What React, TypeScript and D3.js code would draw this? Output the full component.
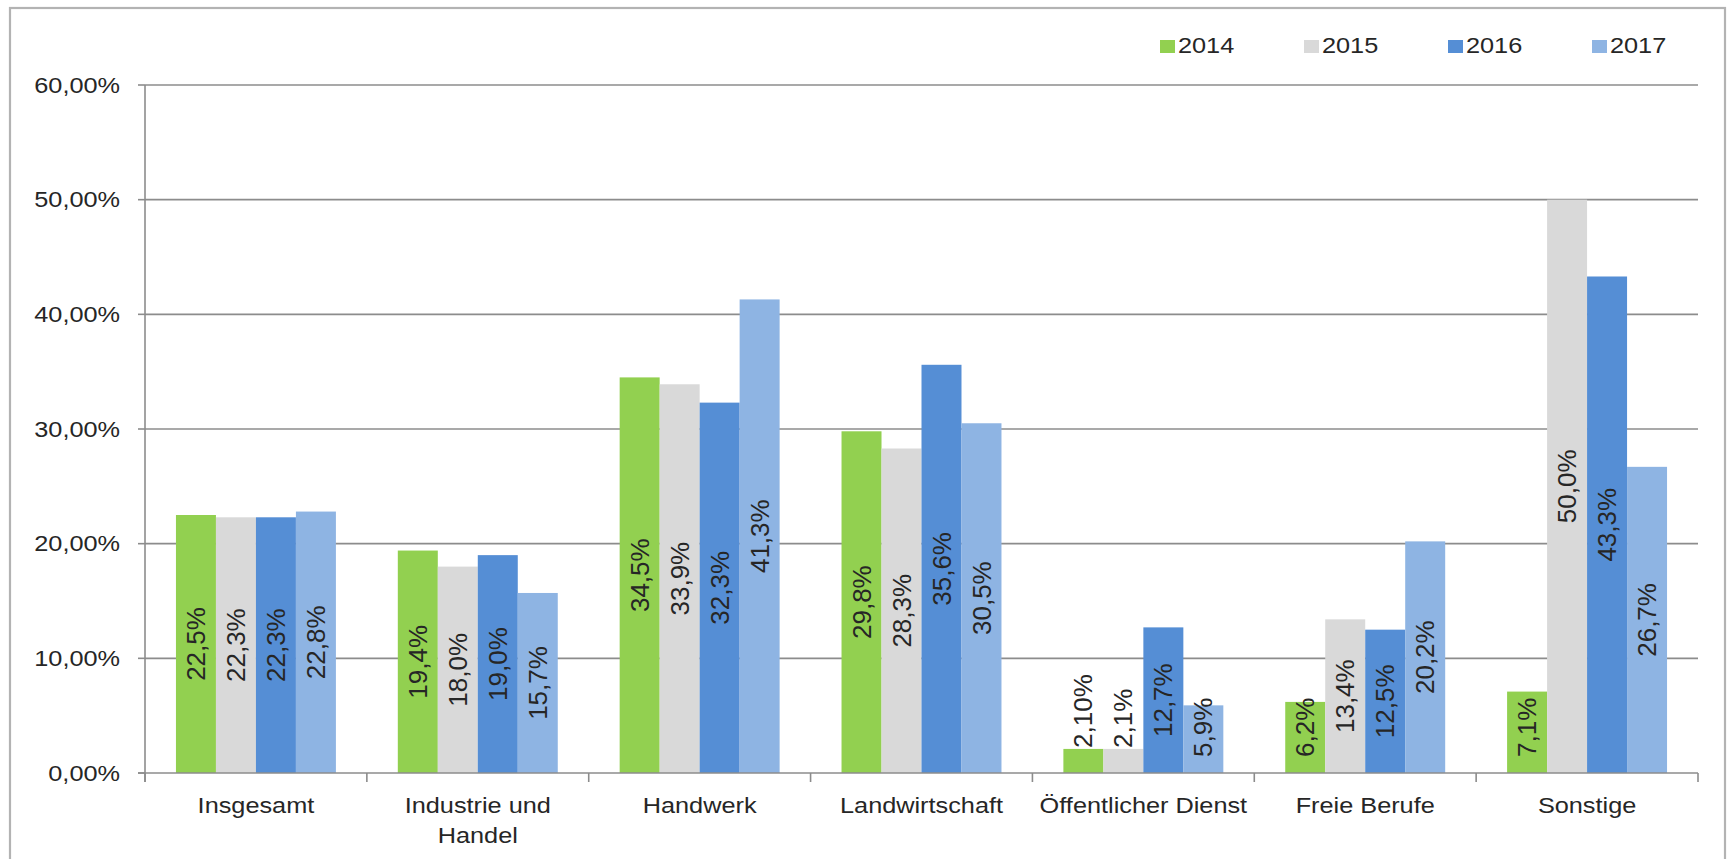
import React from "react";
import * as d3 from "d3";

const categories = ["Insgesamt", "Industrie und Handel", "Handwerk", "Landwirtschaft", "Öffentlicher Dienst", "Freie Berufe", "Sonstige"];
const categoryLines = [["Insgesamt"], ["Industrie und", "Handel"], ["Handwerk"], ["Landwirtschaft"], ["Öffentlicher Dienst"], ["Freie Berufe"], ["Sonstige"]];
const years = ["2014", "2015", "2016", "2017"];
const values2014 = [22.5, 19.4, 34.5, 29.8, 2.1, 6.2, 7.1];
const values2015 = [22.3, 18.0, 33.9, 28.3, 2.1, 13.4, 50.0];
const values2016 = [22.3, 19.0, 32.3, 35.6, 12.7, 12.5, 43.3];
const values2017 = [22.8, 15.7, 41.3, 30.5, 5.9, 20.2, 26.7];
const decimals2014 = [1, 1, 1, 1, 2, 1, 1];
const yTicks = [0, 10, 20, 30, 40, 50, 60];
const colors = ["#92D050", "#D9D9D9", "#558ED5", "#8EB4E3"];

const seriesValues = [values2014, values2015, values2016, values2017];

const W = 1727, H = 859;
const left = 145, right = 1698, top = 85, bottom = 773;
const FONT = "'Liberation Sans', Arial, Helvetica, sans-serif";
const TEXT = "#262626";
const SX = 1.15;

const charW: Record<string, number> = { ",": 0.278, "%": 0.889, ".": 0.278 };
function textLen(s: string, size: number) {
  let w = 0;
  for (const c of s) w += charW[c] ?? 0.556;
  return w * size;
}

function fmtPct(v: number, d: number) {
  return d3.format(`.${d}f`)(v).replace(".", ",") + "%";
}

export default function App() {
  const x0 = d3.scaleBand<string>().domain(categories).range([left, right]).padding(0);
  const x1 = d3.scaleBand<string>().domain(years).range([0, x0.bandwidth()]).paddingInner(0).paddingOuter(0.774);
  const y = d3.scaleLinear().domain([0, 60]).range([bottom, top]);
  const fmtTick = (v: number) => d3.format(".2f")(v).replace(".", ",") + "%";
  const labelSize = 26;

  return (
    <svg width={W} height={H} style={{ position: "absolute", left: 0, top: 0, display: "block", background: "#fff" }} fontFamily={FONT}>
      <rect x={10} y={8} width={1715} height={900} fill="none" stroke="#b3b3b3" strokeWidth={2.2} />
      {/* gridlines */}
      {yTicks.filter((t) => t > 0).map((t) => (
        <line key={"g" + t} x1={left} x2={right} y1={y(t)} y2={y(t)} stroke="#8c8c8c" strokeWidth={1.6} />
      ))}
      {/* y tick labels */}
      {yTicks.map((t) => (
        <g key={"yl" + t}>
          <line x1={left - 7} x2={left} y1={y(t)} y2={y(t)} stroke="#8c8c8c" strokeWidth={1.6} />
          <text transform={`translate(120,${y(t)}) scale(${SX},1)`} textAnchor="end" dy="0.35em" fontSize={22} fill={TEXT}>
            {fmtTick(t)}
          </text>
        </g>
      ))}
      {/* bars */}
      {categories.map((c, ci) => (
        <g key={c} transform={`translate(${x0(c)},0)`}>
          {years.map((yr, si) => {
            const v = seriesValues[si][ci];
            return (
              <rect key={yr} x={x1(yr)} y={y(v)} width={x1.bandwidth()} height={bottom - y(v)} fill={colors[si]} />
            );
          })}
        </g>
      ))}
      {/* axes */}
      <line x1={left} x2={left} y1={top} y2={bottom + 9} stroke="#8c8c8c" strokeWidth={1.6} />
      <line x1={left - 7} x2={right} y1={bottom} y2={bottom} stroke="#8c8c8c" strokeWidth={1.6} />
      {d3.range(categories.length + 1).map((i) => {
        const xx = left + i * x0.step();
        return <line key={"xt" + i} x1={xx} x2={xx} y1={bottom} y2={bottom + 9} stroke="#8c8c8c" strokeWidth={1.6} />;
      })}
      {/* data labels */}
      {categories.map((c, ci) =>
        years.map((yr, si) => {
          const v = seriesValues[si][ci];
          const d = si === 0 ? decimals2014[ci] : 1;
          const s = fmtPct(v, d);
          const L = textLen(s, labelSize);
          const cx = (x0(c) ?? 0) + (x1(yr) ?? 0) + x1.bandwidth() / 2;
          const barTop = y(v);
          const barH = bottom - barTop;
          let yb = Math.min((barTop + bottom) / 2 + L / 2, bottom - 16);
          if (barH < 30) yb = barTop - 1;
          return (
            <text key={c + yr} transform={`translate(${cx},${yb}) rotate(-90)`} textAnchor="start" dy="0.35em" fontSize={labelSize} fill={TEXT}>
              {s}
            </text>
          );
        })
      )}
      {/* x labels */}
      {categories.map((c, ci) => {
        const cx = (x0(c) ?? 0) + x0.bandwidth() / 2;
        return categoryLines[ci].map((ln, li) => (
          <text key={c + li} transform={`translate(${cx},${813 + li * 30}) scale(${SX},1)`} textAnchor="middle" fontSize={22} fill={TEXT}>
            {ln}
          </text>
        ));
      })}
      {/* legend */}
      {years.map((yr, i) => {
        const lx = 1160 + i * 144;
        return (
          <g key={"lg" + yr}>
            <rect x={lx} y={40} width={15} height={13} fill={colors[i]} />
            <text transform={`translate(${lx + 18},53) scale(${SX},1)`} fontSize={22} fill={TEXT}>
              {yr}
            </text>
          </g>
        );
      })}
    </svg>
  );
}
